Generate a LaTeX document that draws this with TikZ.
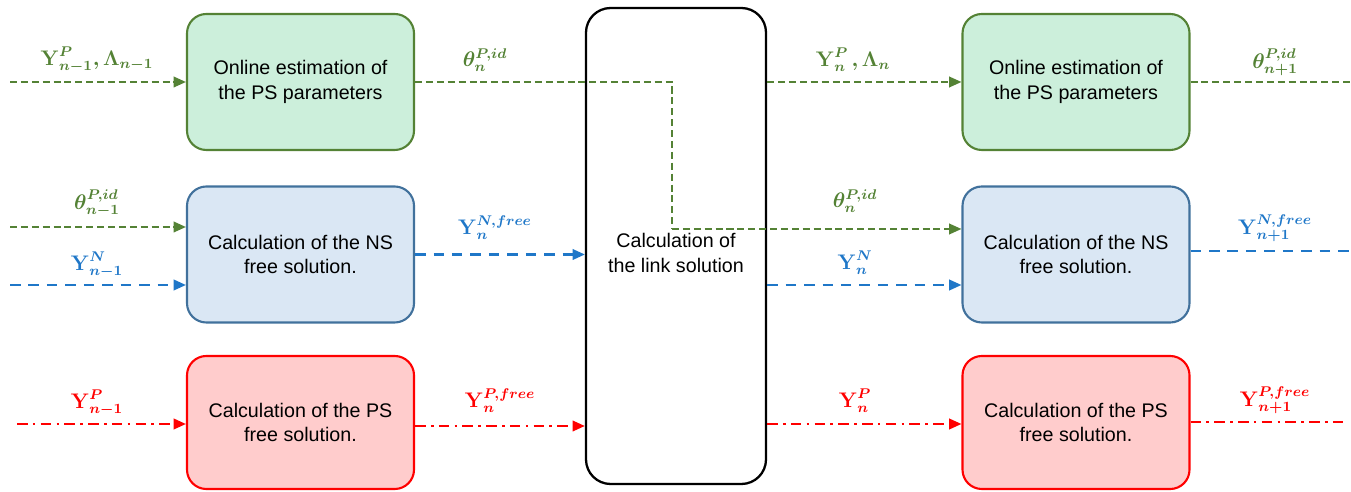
\documentclass[tikz,border=0pt]{standalone}
\usepackage{amsmath,bm}
\usepackage[no-math]{fontspec}
\setmainfont{Liberation Sans}
\usetikzlibrary{arrows.meta}
\definecolor{gline}{HTML}{548235}
\definecolor{gfill}{HTML}{CCEFDB}
\definecolor{bline}{HTML}{41719C}
\definecolor{bfill}{HTML}{DAE7F4}
\definecolor{btext}{HTML}{1F77C8}
\definecolor{rline}{HTML}{FF0000}
\definecolor{rfill}{HTML}{FFCCCC}
\begin{document}
\begin{tikzpicture}[x=0.02cm,y=-0.02cm,
  blk/.style={draw, line width=1.2pt, rounded corners=11pt, minimum width=227*0.02cm, minimum height=136*0.02cm, align=center, font=\fontsize{11.2}{14}\selectfont},
  gbox/.style={blk, draw=gline, fill=gfill},
  bbox/.style={blk, draw=bline, fill=bfill},
  rbox/.style={blk, draw=rline, fill=rfill},
  gcon/.style={draw=gline, line width=1.1pt, dash pattern=on 4pt off 2.2pt},
  bcon/.style={draw=btext, line width=1.2pt, dash pattern=on 6pt off 4.5pt},
  rcon/.style={draw=rline, line width=1.2pt, dash pattern=on 6pt off 3pt on 1.5pt off 3pt},
  tip/.style={-{Triangle[length=7pt,width=6pt]}},
  lab/.style={font=\large, inner sep=1pt},
]
\useasboundingbox (0,0) rectangle (1351,492);
% boxes
\node[gbox] (gl) at (300.5,82) {Online estimation of\\the PS parameters};
\node[bbox] (bl) at (300.5,254.5) {Calculation of the NS\\free solution.};
\node[rbox, minimum height=133*0.02cm] (rl) at (300.5,422.5) {Calculation of the PS\\free solution.};
\node[gbox] (gr) at (1076,82) {Online estimation of\\the PS parameters};
\node[bbox] (br) at (1076,254.5) {Calculation of the NS\\free solution.};
\node[rbox, minimum height=133*0.02cm] (rr) at (1076,422.5) {Calculation of the PS\\free solution.};
\node[draw=black, line width=1.3pt, rounded corners=14pt, minimum width=180*0.02cm, minimum height=476*0.02cm] (lk) at (676,246) {};
\node[align=center, font=\fontsize{11.2}{14}\selectfont] (lkt) at (676,253) {Calculation of\\the link solution};
% free ends
\coordinate (a1) at (10,82);
\coordinate (a2) at (10,227);
\coordinate (a3) at (10,285);
\coordinate (a4) at (17,424);
\coordinate (e1) at (1351,82);
\coordinate (e2) at (1351,251);
\coordinate (e3) at (1345,422);
\coordinate (bend1) at (672,82);
\coordinate (bend2) at (672,229);
% green
\draw[gcon, tip] (a1) -- (a1 -| gl.west);
\draw[gcon, tip] (a2) -- (a2 -| bl.west);
\draw[gcon] (gl.east) -- (bend1) -- (bend2);
\draw[gcon, tip] (bend2) -- (bend2 -| br.west);
\draw[gcon, tip] (lk.east |- gr.west) -- (gr.west);
\draw[gcon] (gr.east) -- (e1);
% blue
\draw[bcon, tip] (a3) -- (a3 -| bl.west);
\draw[bcon, tip] (bl.east) -- (bl.east -| lk.west);
\draw[bcon, tip] (lk.east |- a3) -- (a3 -| br.west);
\draw[bcon] (e2 -| br.east) -- (e2);
% red
\draw[rcon, tip] (a4) -- (a4 -| rl.west);
\draw[rcon, tip] (rl.east |- 0,426) -- (lk.west |- 0,426);
\draw[rcon, tip] (lk.east |- a4) -- (a4 -| rr.west);
\draw[rcon] (e3 -| rr.east) -- (e3);
% labels
\node[lab, text=gline] (l1) at (97,60) {$\bm{\mathbf{Y}^{P}_{n-1},\Lambda_{n-1}}$};
\node[lab, text=gline] (l2) at (485,60) {$\bm{\theta^{P,id}_{n}}$};
\node[lab, text=gline] (l3) at (853,60) {$\bm{\mathbf{Y}^{P}_{n}\,,\Lambda_{n}}$};
\node[lab, text=gline] (l4) at (1275,62) {$\bm{\theta^{P,id}_{n+1}}$};
\node[lab, text=gline] (l5) at (97,203) {$\bm{\theta^{P,id}_{n-1}}$};
\node[lab, text=btext] (l6) at (97,265) {$\bm{\mathbf{Y}^{N}_{n-1}}$};
\node[lab, text=btext] (l7) at (495,228) {$\bm{\mathbf{Y}^{N,free}_{n}}$};
\node[lab, text=gline] (l8) at (855,201) {$\bm{\theta^{P,id}_{n}}$};
\node[lab, text=btext] (l9) at (855,263) {$\bm{\mathbf{Y}^{N}_{n}}$};
\node[lab, text=btext] (l10) at (1275,228) {$\bm{\mathbf{Y}^{N,free}_{n+1}}$};
\node[lab, text=rline] (l11) at (97,403) {$\bm{\mathbf{Y}^{P}_{n-1}}$};
\node[lab, text=rline] (l12) at (500,401) {$\bm{\mathbf{Y}^{P,free}_{n}}$};
\node[lab, text=rline] (l13) at (855,401) {$\bm{\mathbf{Y}^{P}_{n}}$};
\node[lab, text=rline] (l14) at (1275,400) {$\bm{\mathbf{Y}^{P,free}_{n+1}}$};
\end{tikzpicture}
\end{document}
